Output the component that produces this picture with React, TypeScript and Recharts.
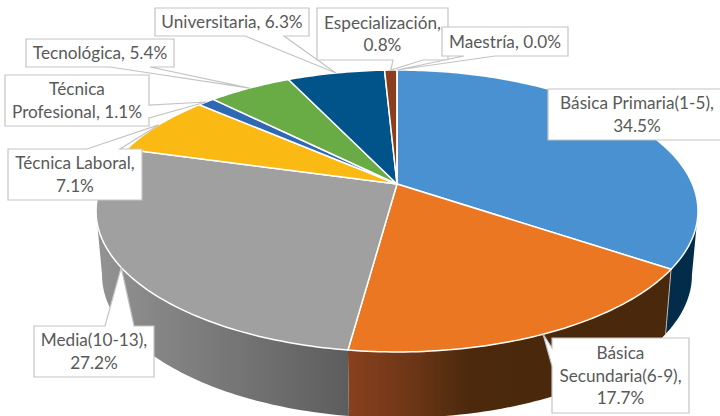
import React from 'react';
import { PieChart, Pie } from 'recharts';

const categories = ['Básica Primaria(1-5)', 'Básica Secundaria(6-9)', 'Media(10-13)', 'Técnica Laboral', 'Técnica Profesional', 'Tecnológica', 'Universitaria', 'Especialización', 'Maestría'];
const values = [34.5, 17.7, 27.2, 7.1, 1.1, 5.4, 6.3, 0.8, 0.0];
const labelLines = [
  ['Básica Primaria(1-5),', '34.5%'],
  ['Básica', 'Secundaria(6-9),', '17.7%'],
  ['Media(10-13),', '27.2%'],
  ['Técnica Laboral,', '7.1%'],
  ['Técnica', 'Profesional, 1.1%'],
  ['Tecnológica, 5.4%'],
  ['Universitaria, 6.3%'],
  ['Especialización,', '0.8%'],
  ['Maestría, 0.0%'],
];
const topColors = ['#4a91d1', '#eb7723', '#a0a0a0', '#fbb913', '#2f69b3', '#69ab45', '#005489', '#8c3d1b', '#8c3d1b'];
const wallStops: string[][] = [
  ['#022c4a', '#022c4a'],
  ['#8a401e', '#6e3717', '#4c290d', '#4a280c'],
  ['#929292', '#808080', '#6f6f6f', '#5d5d5d'],
  ['#fbb913', '#fbb913'],
  ['#2f69b3', '#2f69b3'],
  ['#69ab45', '#69ab45'],
  ['#005489', '#005489'],
  ['#8c3d1b', '#8c3d1b'],
  ['#8c3d1b', '#8c3d1b'],
];
const wallSpans = [[660, 700], [347, 530], [100, 347], [0, 1], [0, 1], [0, 1], [0, 1], [0, 1], [0, 1]];

// Callout boxes: [left, top, right, bottom], wedge side and the two wedge base points
type Box = { r: number[]; side: 'top' | 'right' | 'bottom' | 'left' | 'none'; base: number[] };
const boxes: Box[] = [
  { r: [548, 89, 722, 140], side: 'none', base: [] },
  { r: [552, 338, 689, 413], side: 'left', base: [348, 366] },
  { r: [34, 326, 154, 377], side: 'top', base: [105, 134] },
  { r: [8, 149, 142, 200], side: 'top', base: [87, 120] },
  { r: [5, 75, 149, 126], side: 'right', base: [105, 118] },
  { r: [26, 39, 174, 67], side: 'bottom', base: [110, 150] },
  { r: [155, 8, 309, 36], side: 'bottom', base: [245, 284] },
  { r: [317, 8, 448, 60], side: 'bottom', base: [393, 423] },
  { r: [442, 27, 568, 56], side: 'bottom', base: [464, 495] },
];

const rows = categories.map((name, i) => ({ name, value: values[i], fill: topColors[i], idx: i }));

const PERSP = 0.1915;
const FLATTEN = 0.4597;
const BASE_DROP = 63.6;
const BASE_SX = 0.98;
const BASE_SY = 1.014;
const WALL_FROM = 101;
const WALL_TO = 259;

function rim(deg: number, cx: number, cy: number, a: number, b: number) {
  const t = (deg * Math.PI) / 180;
  const u = Math.sin(t);
  const v = -Math.cos(t);
  const den = 1 - PERSP * v;
  return [cx + (a * u) / den, cy + (b * v) / den];
}

function arc(from: number, to: number, cx: number, cy: number, a: number, b: number) {
  const n = Math.max(1, Math.ceil(Math.abs(to - from)));
  const pts: number[][] = [];
  for (let i = 0; i <= n; i++) pts.push(rim(from + ((to - from) * i) / n, cx, cy, a, b));
  return pts;
}

const toPath = (pts: number[][]) => 'M' + pts.map((p) => `${p[0].toFixed(2)},${p[1].toFixed(2)}`).join('L') + 'Z';

function TopFace(props: any) {
  const { cx, cy, outerRadius, startAngle, endAngle, fill } = props;
  const a = outerRadius;
  const pts = [[cx, cy], ...arc(90 - startAngle, 90 - endAngle, cx, cy, a, a * FLATTEN)];
  return <path d={toPath(pts)} fill={fill} stroke="#ffffff" strokeWidth={1.5} strokeLinejoin="round" />;
}

function WallFace(props: any) {
  const { cx, cy, outerRadius, startAngle, endAngle, payload } = props;
  const i = payload?.idx ?? props.idx ?? 0;
  const a = outerRadius;
  const t1 = Math.max(90 - startAngle, WALL_FROM);
  const t2 = Math.min(90 - endAngle, WALL_TO);
  if (t2 <= t1) return <g />;
  const upper = arc(t1, t2, cx, cy, a, a * FLATTEN);
  const lower = arc(t2, t1, cx, cy + BASE_DROP, a * BASE_SX, a * FLATTEN * BASE_SY);
  const stops = wallStops[i];
  const span = wallSpans[i];
  const id = `wall-${i}`;
  const s = rim(t1, cx, cy, a, a * FLATTEN);
  const e = rim(t1, cx, cy + BASE_DROP, a * BASE_SX, a * FLATTEN * BASE_SY);
  return (
    <g>
      <defs>
        <linearGradient id={id} gradientUnits="userSpaceOnUse" x1={span[0]} x2={span[1]} y1={0} y2={0}>
          {stops.map((c, k) => (
            <stop key={k} offset={k / (stops.length - 1)} stopColor={c} />
          ))}
        </linearGradient>
      </defs>
      <path d={toPath([...upper, ...lower])} fill={`url(#${id})`} />
      {i === 1 ? <line x1={s[0]} y1={s[1]} x2={e[0]} y2={e[1]} stroke="#b5b5b5" strokeWidth={1} /> : null}
    </g>
  );
}

function calloutPath(b: Box, tip: number[]) {
  const [l, t, r, bt] = b.r;
  const [p, q] = b.base;
  const pts: number[][] = [[l, t]];
  if (b.side === 'top') pts.push([p, t], tip, [q, t]);
  pts.push([r, t]);
  if (b.side === 'right') pts.push([r, p], tip, [r, q]);
  pts.push([r, bt]);
  if (b.side === 'bottom') pts.push([q, bt], tip, [p, bt]);
  pts.push([l, bt]);
  if (b.side === 'left') pts.push([l, q], tip, [l, p]);
  return toPath(pts);
}

function Callout(props: any) {
  const { cx, cy, outerRadius, midAngle, index } = props;
  const b = boxes[index];
  const tip = rim(90 - midAngle, cx, cy, outerRadius, outerRadius * FLATTEN);
  const lines = labelLines[index];
  const [l, t, r, bt] = b.r;
  const mid = index === 0 ? 637 : (l + r) / 2;
  const lh = 22.6;
  const y0 = (t + bt) / 2 - ((lines.length - 1) * lh) / 2;
  return (
    <g>
      <path d={calloutPath(b, tip)} fill="#ffffff" stroke="#c4c4c4" strokeWidth={1.2} strokeLinejoin="miter" />
      {lines.map((s, k) => (
        <text key={k} x={mid} y={y0 + k * lh} dy="0.35em" textAnchor="middle" fill="#595959" fontFamily="Lato, 'Open Sans', sans-serif" fontSize={17.2}>
          {s}
        </text>
      ))}
    </g>
  );
}

export default function App() {
  return (
    <div style={{ position: 'absolute', left: 0, top: 0, width: 720, height: 416, overflow: 'hidden', background: '#fff' }}>
      <PieChart width={720} height={416} margin={{ top: 0, right: 0, bottom: 0, left: 0 }}>
        <Pie data={rows} dataKey="value" nameKey="name" cx={397} cy={184} innerRadius={0} outerRadius={295.4} startAngle={90} endAngle={-270} stroke="none" shape={WallFace} label={false} labelLine={false} isAnimationActive={false} />
        <Pie data={rows} dataKey="value" nameKey="name" cx={397} cy={184} innerRadius={0} outerRadius={295.4} startAngle={90} endAngle={-270} shape={TopFace} label={Callout} labelLine={false} isAnimationActive={false} />
      </PieChart>
    </div>
  );
}
